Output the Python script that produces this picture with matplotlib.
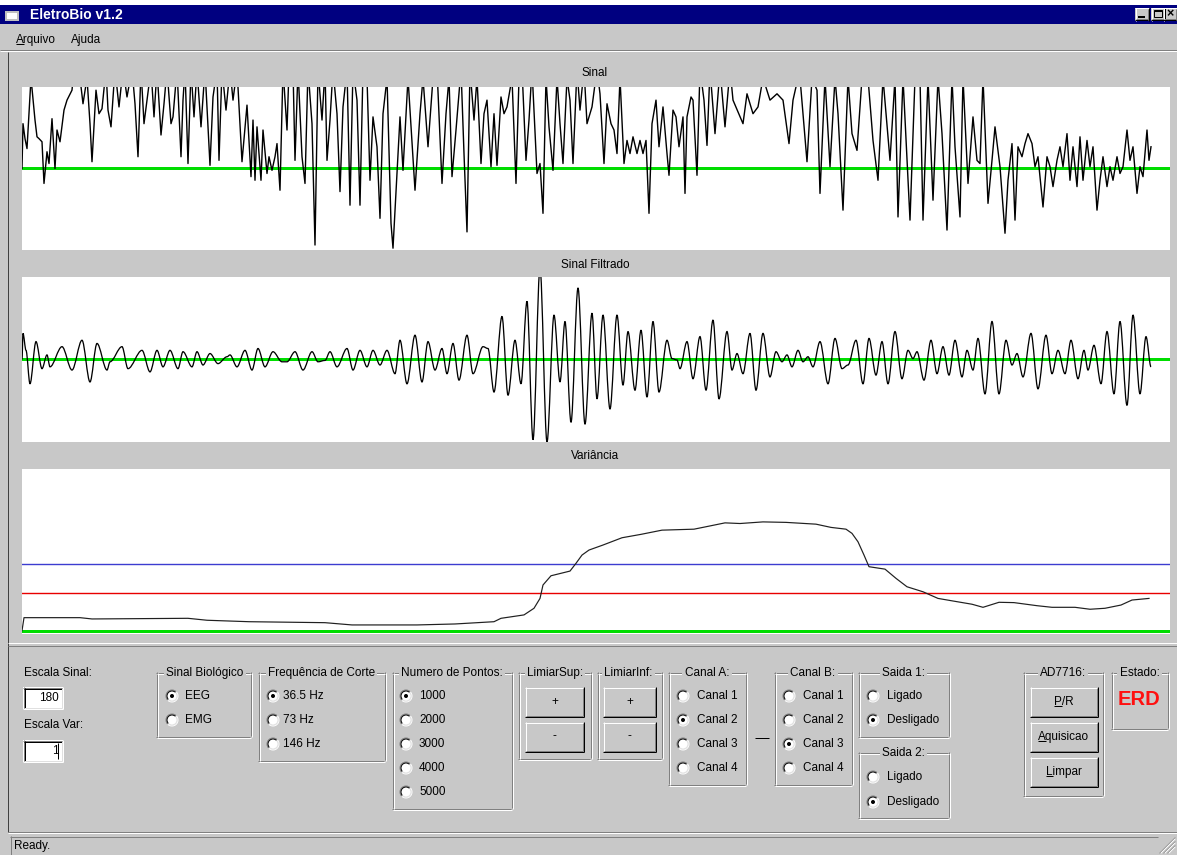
import matplotlib
matplotlib.use("Agg")
import matplotlib.pyplot as plt
from matplotlib.patches import Rectangle, Circle, Arc, PathPatch
from matplotlib.path import Path

W, H = 1177, 855
DPI = 100
FONT = ['Liberation Sans', 'DejaVu Sans']
TFONT = ['Liberation Sans', 'DejaVu Sans']
plt.rcParams['font.family'] = FONT

GRAY = '#c8c8c8'
DARK = '#808080'
LIGHT = '#e0e0e0'
WHITE = '#ffffff'
NAVY = '#000080'
PX = 72.0 / DPI
FS = 8.5

# ---------------- data ----------------
window_title = 'EletroBio v1.2'
menu_labels = ['Arquivo', 'Ajuda']
panel_titles = ['Sinal', 'Sinal Filtrado', 'Variância']
status_text = 'Ready.'

escala_sinal = 180
escala_var = 1

# raw signal (time in samples, amplitude)
sig_t = [0, 1, 3, 5, 9, 13, 15, 17, 20, 22, 25, 27, 30, 33, 35, 38, 42, 45, 50, 52,
         58, 61, 65, 68, 70, 74, 77, 80, 84, 86, 89, 93, 97, 101, 105, 110, 113, 116, 119, 122,
         125, 129, 132, 135, 139, 142, 145, 149, 151, 155, 159, 161, 163, 166, 169, 172, 175, 179, 183, 188,
         191, 195, 197, 200, 204, 208, 211, 215, 220, 225, 229, 231, 233, 235, 239, 241, 245, 247, 250, 253,
         255, 258, 261, 265, 267, 271, 273, 276, 280, 283, 286, 290, 293, 296, 300, 303, 305, 308, 311, 315,
         318, 321, 325, 328, 331, 335, 338, 341, 345, 348, 351, 355, 358, 361, 365, 369, 371, 378, 381, 386,
         393, 398, 401, 406, 411, 415, 420, 424, 427, 430, 434, 439, 442, 445, 448, 452, 455, 459, 462, 465,
         469, 472, 475, 479, 482, 485, 490, 494, 497, 500, 504, 507, 510, 515, 518, 521, 524, 527, 531, 535,
         538, 541, 545, 548, 551, 555, 558, 562, 565, 570, 575, 578, 582, 585, 589, 592, 595, 598, 602, 605,
         608, 611, 615, 618, 621, 624, 627, 630, 634, 637, 641, 645, 647, 651, 654, 657, 661, 663, 665, 669,
         671, 675, 678, 682, 685, 688, 693, 698, 703, 708, 711, 721, 725, 731, 736, 741, 748, 755, 761, 767,
         771, 776, 778, 785, 790, 795, 798, 803, 808, 813, 816, 821, 826, 830, 835, 840, 846, 851, 856, 861,
         868, 873, 876, 881, 885, 888, 893, 898, 901, 906, 911, 916, 920, 925, 930, 933, 938, 941, 946, 951,
         955, 958, 961, 966, 970, 973, 978, 983, 986, 990, 993, 996, 1000, 1003, 1006, 1010, 1013, 1016, 1021, 1025,
         1028, 1031, 1035, 1038, 1041, 1045, 1048, 1051, 1055, 1058, 1061, 1065, 1068, 1071, 1075, 1078, 1081, 1085, 1088, 1091,
         1095, 1098, 1101, 1105, 1108, 1111, 1115, 1118, 1121, 1125, 1127, 1129]
sig_v = [0, 99, 66, 44, 200, 107, 70, 66, 59, -33, 37, 11, 110, 0, 85, 59, 129, 151, 173, 220,
         200, 143, 200, 99, 15, 173, 121, 132, 220, 129, 92, 220, 136, 220, 158, 220, 143, 26, 220, 99,
         151, 220, 114, 220, 74, 143, 220, 99, 114, 220, 26, 151, 220, 11, 220, 114, 220, 92, 220, 7,
         158, 220, 18, 220, 129, 220, 151, 220, 15, 140, -18, 107, -26, 92, -26, 85, -11, 26, -4, 26,
         55, -48, 220, 85, 220, 220, 18, 220, 26, -33, 220, 99, -169, 220, 107, 220, 18, 107, 220, 121,
         -51, 136, 220, -81, 220, 151, -81, 220, 200, -26, 114, 48, -110, 121, 200, -121, -176, 114, -4, 200,
         -48, 121, 200, 48, 200, 220, -33, 121, 200, -18, 85, 220, 33, -140, 220, 107, 200, 11, 121, 151,
         4, 121, 7, 158, 121, 136, 200, -33, 200, 220, 18, 107, 220, -11, 11, -99, 200, 92, -4, 200,
         99, 11, 200, 151, 11, 220, 129, 220, 99, 136, 220, 165, 11, 143, 99, 85, 33, 200, 11, 62,
         33, 70, 33, 62, 33, 62, -99, 99, 151, 48, 136, 33, -15, 129, 114, 48, 114, -55, 114, 158,
         151, -15, 220, 151, 51, 220, 77, 220, 92, 220, 151, 99, 165, 121, 136, 200, 151, 165, 151, 55,
         151, 200, 200, 15, 200, 173, -55, 200, 4, 200, 121, -92, 200, 77, 40, 200, 200, 62, -26, 200,
         18, 200, -107, 200, 18, -114, 200, 200, -114, 200, -70, 200, 77, -136, 200, 48, -107, 200, -33, 114,
         18, 11, 200, -77, 18, 92, 4, -143, -26, 55, -114, 48, 26, 55, 77, 55, 4, 26, -85, 26,
         4, -40, 18, 48, 4, 77, -26, 48, -40, 70, -26, 62, 4, 48, -92, -26, 26, -40, 4, -26,
         26, -11, 4, 85, 18, 48, -55, 4, -18, 85, 18, 48]

# filtered signal (successive extrema)
filt_t = [0, 1, 4, 8, 14, 20, 25, 28, 40, 50, 60, 68, 75, 85, 88, 100, 106, 120, 128, 135,
          141, 148, 156, 161, 170, 175, 181, 188, 196, 205, 208, 215, 223, 230, 236, 243, 251, 260, 265, 273,
          281, 290, 296, 303, 308, 315, 325, 331, 338, 345, 351, 358, 365, 373, 378, 385, 393, 400, 406, 413,
          420, 425, 431, 437, 445, 451, 461, 466, 472, 480, 486, 493, 499, 505, 511, 518, 525, 532, 538, 543,
          549, 556, 563, 570, 575, 581, 588, 595, 601, 606, 613, 619, 625, 631, 637, 645, 650, 655, 658, 665,
          671, 678, 684, 691, 697, 705, 710, 715, 721, 728, 734, 741, 748, 754, 760, 765, 770, 776, 781, 786,
          791, 798, 806, 813, 820, 826, 834, 841, 847, 854, 860, 866, 873, 880, 886, 891, 895, 902, 909, 915,
          921, 927, 933, 940, 945, 951, 956, 963, 970, 977, 984, 990, 995, 1001, 1009, 1016, 1024, 1030, 1036, 1043,
          1049, 1056, 1062, 1066, 1072, 1079, 1085, 1092, 1098, 1105, 1111, 1118, 1124, 1129]
filt_v = [0, 57, 20, -53, 39, -20, 10, -16, 28, -23, 42, -49, 35, -23, -5, 28, -20, 20, -27, 20,
          -16, 20, -20, 17, -16, 17, -12, 13, -9, 6, 10, -16, 20, -23, 24, -16, 17, -5, -5, 17,
          -23, 17, -5, -2, 17, -16, 24, -23, 20, -16, 20, -12, 20, -31, 42, -53, 53, -49, 39, -23,
          24, -31, 35, -45, 53, -31, 28, 24, -71, 94, -78, 42, -53, 127, -175, 200, -180, 97, -49, 83,
          -137, 156, -141, 101, -86, 97, -108, 97, -56, 61, -67, 64, -82, 83, -71, 42, 2, -1, -20, 39,
          -42, 50, -67, 86, -86, 61, -23, 13, -31, 57, -67, 57, -38, 17, -5, 10, -16, 20, -5, 6,
          -16, 39, -53, 46, -20, -12, 42, -53, 46, -34, 39, -53, 61, -42, 20, 2, 17, -45, 42, -31,
          28, -34, 42, -38, 20, -23, 46, -75, 83, -75, 42, -12, 13, -38, 57, -64, 53, -31, 20, -31,
          42, -42, 20, -23, 31, -53, 61, -75, 83, -100, 97, -75, 50, -16]

# variance
var_t = [0, 2, 58, 70, 166, 185, 227, 303, 330, 395, 433, 472, 479, 502, 512, 518, 521, 529, 548, 554,
         560, 567, 581, 600, 619, 640, 672, 684, 703, 718, 741, 764, 794, 809, 824, 830, 836, 842, 847, 863,
         874, 885, 901, 916, 931, 950, 961, 977, 992, 1015, 1030, 1053, 1068, 1083, 1099, 1110, 1127]
var_v = [0, 8.1, 8.1, 7.3, 7.7, 6.5, 5.6, 5.0, 3.6, 3.6, 4.2, 5.6, 7.7, 9.8, 13.9, 20, 28.3, 34, 36.9, 41.7,
         46.8, 49.9, 53, 57.5, 59.6, 62.2, 62.8, 64.3, 66.7, 66.3, 67.3, 67, 65.9, 63.9, 62.8, 60.2, 55, 46.8, 39.6, 38.1,
         32.4, 27.2, 24.1, 20, 18.4, 16.4, 14.5, 17.6, 17.4, 15.5, 14.5, 14.5, 13.3, 13.9, 15.9, 19, 20]
limiar_sup = 41.2
limiar_inf = 23.3

bio_options = ['EEG', 'EMG']
bio_sel = 0
freq_options = ['36.5 Hz', '73 Hz', '146 Hz']
freq_sel = 0
pontos_options = ['1000', '2000', '3000', '4000', '5000']
pontos_sel = 0
canal_options = ['Canal 1', 'Canal 2', 'Canal 3', 'Canal 4']
canal_a_sel = 1
canal_b_sel = 2
saida_options = ['Ligado', 'Desligado']
saida1_sel = 1
saida2_sel = 1
ad_buttons = ['P/R', 'Aquisicao', 'Limpar']
estado = 'ERD'

# ---------------- figure ----------------
fig = plt.figure(figsize=(W / DPI, H / DPI), dpi=DPI, facecolor=GRAY)
ax0 = fig.add_axes([0, 0, 1, 1])
ax0.set_xlim(0, W)
ax0.set_ylim(H, 0)
ax0.axis('off')
ax0.set_facecolor(GRAY)
renderer = fig.canvas.get_renderer()


def rect(x0, y0, x1, y1, fc, z=1):
    ax0.add_patch(Rectangle((x0, y0), x1 - x0, y1 - y0, fc=fc, ec='none', zorder=z))


def hl(x0, x1, y, c, w=1, z=3):
    ax0.plot([x0, x1], [y + 0.5, y + 0.5], color=c, lw=w * PX, solid_capstyle='butt', zorder=z)


def vl(x, y0, y1, c, w=1, z=3):
    ax0.plot([x + 0.5, x + 0.5], [y0, y1], color=c, lw=w * PX, solid_capstyle='butt', zorder=z)


def txt(x, y, s, ha='left', size=FS, color='black', weight='normal', z=5, bbox=None, family=FONT):
    return ax0.text(x, y, s, ha=ha, va='center', fontsize=size, color=color,
                    fontweight=weight, zorder=z, bbox=bbox, family=family)


def underline_first(t):
    bb = t.get_window_extent(renderer)
    tmp = ax0.text(0, 0, t.get_text()[0], fontsize=t.get_fontsize(), family=FONT)
    w1 = tmp.get_window_extent(renderer).width
    tmp.remove()
    x0 = bb.x0
    yb = H - bb.y0 - 2.5
    hl(x0, x0 + w1, yb, 'black', z=6)


def raised(x0, y0, x1, y1):
    rect(x0, y0, x1, y1, GRAY, z=2)
    hl(x0, x1, y0, WHITE)
    vl(x0, y0, y1, WHITE)
    hl(x0, x1, y1 - 1, 'black')
    vl(x1 - 1, y0, y1, 'black')
    hl(x0 + 1, x1 - 1, y1 - 2, DARK)
    vl(x1 - 2, y0 + 1, y1 - 1, DARK)


def sunken(x0, y0, x1, y1, fc=WHITE):
    rect(x0, y0, x1, y1, fc, z=2)
    hl(x0, x1, y0, DARK)
    vl(x0, y0, y1, DARK)
    hl(x0 + 1, x1 - 1, y0 + 1, 'black')
    vl(x0 + 1, y0 + 1, y1 - 1, 'black')
    hl(x0, x1, y1 - 1, WHITE)
    vl(x1 - 1, y0, y1, WHITE)
    hl(x0 + 1, x1 - 1, y1 - 2, LIGHT)
    vl(x1 - 2, y0 + 1, y1 - 1, LIGHT)


def group(x0, y0, x1, y1, title, tx=None):
    for (a, b) in [(0, DARK), (1, WHITE)]:
        hl(x0 + a, x1 - 1 + a, y0 + a, b)
        hl(x0 + a, x1 - 1 + a, y1 - 1 + a, b)
        vl(x0 + a, y0 + a, y1 - 1 + a, b)
        vl(x1 - 1 + a, y0 + a, y1 - 1 + a, b)
    ha = 'left'
    if tx is None:
        tx = (x0 + x1) / 2
        ha = 'center'
    txt(tx, y0 + 1, title, ha=ha,
        bbox=dict(boxstyle='square,pad=0.2', fc=GRAY, ec='none'))


def radio(cx, cy, checked):
    ax0.add_patch(Circle((cx, cy), 5.5, fc=WHITE, ec='none', zorder=3))
    ax0.add_patch(Arc((cx, cy), 12, 12, theta1=135, theta2=315, color=DARK, lw=PX, zorder=4))
    ax0.add_patch(Arc((cx, cy), 12, 12, theta1=-45, theta2=135, color=WHITE, lw=PX, zorder=4))
    ax0.add_patch(Arc((cx, cy), 10, 10, theta1=135, theta2=315, color='black', lw=PX, zorder=4))
    ax0.add_patch(Arc((cx, cy), 10, 10, theta1=-45, theta2=135, color=LIGHT, lw=PX, zorder=4))
    if checked:
        ax0.add_patch(Circle((cx, cy), 2.0, fc='black', ec='none', zorder=5))


def radio_list(cx, tx, rows, labels, sel):
    for i, (r, lab) in enumerate(zip(rows, labels)):
        radio(cx, r, i == sel)
        txt(tx, r, lab)


# ---- window chrome ----
rect(0, 0, W, 5, WHITE)
rect(0, 5, W, 24, NAVY, z=2)
rect(5, 8, 19, 21, '#c0c0c0', z=3)
rect(5, 8, 19, 11, NAVY, z=4)
rect(7, 13, 17, 19, WHITE, z=4)
txt(30, 15, window_title, color=WHITE, weight='bold', size=10, family=TFONT)
for bx in [1135, 1151, 1163]:
    raised(bx, 8, bx + 14, 21)
hl(1138, 1145, 17, 'black', w=2, z=6)
ax0.add_patch(Rectangle((1154, 10.5), 8, 7, fc='none', ec='black', lw=PX, zorder=6))
hl(1154, 1162, 11, 'black', w=1, z=6)
txt(1170, 14.5, '×', ha='center', size=9, weight='bold', z=6, family=TFONT)

# menu
m1 = txt(16, 40, menu_labels[0])
underline_first(m1)
txt(71, 40, menu_labels[1])
hl(0, W, 50, DARK)
hl(0, W, 51, WHITE)
vl(7, 52, 832, '#404040')

# panel titles
for title, yy in zip(panel_titles, [73, 265, 456]):
    txt(595, yy, title, ha='center')

# bottom separators
hl(8, W, 642, WHITE)
hl(8, W, 645, DARK)
hl(8, W, 831, DARK)
hl(8, W, 832, WHITE)

# status bar
hl(10, 1158, 836, DARK)
vl(10, 836, H, DARK)
txt(14, 846, status_text)
for k in range(3):
    ax0.plot([1160 + 4 * k, 1175], [853, 838 + 4 * k], color=DARK, lw=PX, zorder=4)
    ax0.plot([1161 + 4 * k, 1175], [853, 839 + 4 * k], color=WHITE, lw=PX, zorder=4)

# ---- controls ----
txt(24, 673, 'Escala Sinal:')
sunken(23, 687, 63, 709)
txt(59, 698, str(escala_sinal), ha='right')
txt(24, 725, 'Escala Var:')
sunken(23, 740, 63, 762)
txt(59, 751, str(escala_var), ha='right')
vl(57, 743, 759, 'black')

rows4 = [696, 720, 744, 768, 792]
group(156, 672, 251, 737, 'Sinal Biológico', tx=166)
radio_list(172, 185, rows4, bio_options, bio_sel)

group(258, 672, 385, 761, 'Frequência de Corte', tx=268)
radio_list(273, 283, rows4, freq_options, freq_sel)

group(392, 672, 512, 809, 'Numero de Pontos:', tx=401)
radio_list(406, 419, rows4, pontos_options, pontos_sel)

group(518, 672, 591, 759, 'LimiarSup:', tx=527)
raised(525, 687, 584, 717)
txt(554.5, 702, '+', ha='center')
raised(525, 722, 584, 752)
txt(554.5, 736, '-', ha='center')

group(597, 672, 662, 759, 'LimiarInf:', tx=604)
raised(603, 687, 656, 717)
txt(629.5, 702, '+', ha='center')
raised(603, 722, 656, 752)
txt(629.5, 736, '-', ha='center')

group(668, 672, 746, 785, 'Canal A:')
radio_list(683, 697, rows4, canal_options, canal_a_sel)

hl(755, 769, 737, 'black')

group(774, 672, 852, 785, 'Canal B:')
radio_list(789, 803, rows4, canal_options, canal_b_sel)

group(858, 672, 949, 737, 'Saida 1:')
radio_list(873, 887, [696, 720], saida_options, saida1_sel)
group(858, 752, 949, 818, 'Saida 2:')
radio_list(873, 887, [777, 802], saida_options, saida2_sel)

group(1023, 672, 1103, 796, 'AD7716:')
for lab, (y0, y1) in zip(ad_buttons, [(687, 717), (722, 752), (757, 787)]):
    raised(1030, y0, 1098, y1)
    cy = (y0 + y1) / 2
    tb = txt(1064, cy, lab, ha='center')
    underline_first(tb)

group(1111, 672, 1168, 729, 'Estado:')
txt(1139, 699, estado, ha='center', size=14.5, color='#ff1010', weight='bold', family=TFONT)


# ---- data panels ----
def px_axes(x0, y0, x1, y1):
    a = fig.add_axes([x0 / W, 1 - y1 / H, (x1 - x0) / W, (y1 - y0) / H])
    a.set_facecolor(WHITE)
    for s in a.spines.values():
        s.set_visible(False)
    a.set_xticks([])
    a.set_yticks([])
    a.set_xlim(0, 1148)
    return a


def smooth_path(ts, vs):
    verts = [(ts[0], vs[0])]
    codes = [Path.MOVETO]
    for i in range(1, len(ts)):
        d = (ts[i] - ts[i - 1]) / 3.0
        verts += [(ts[i - 1] + d, vs[i - 1]), (ts[i] - d, vs[i]), (ts[i], vs[i])]
        codes += [Path.CURVE4] * 3
    return Path(verts, codes)


GREEN = '#00dd00'
a1 = px_axes(22, 87, 1170, 250)
a1.set_ylim(-escala_sinal, escala_sinal)
a1.axhline(0, color=GREEN, lw=3 * PX, zorder=1)
a1.plot(sig_t, sig_v, color='black', lw=1.4 * PX, zorder=2)

a2 = px_axes(22, 277, 1170, 442)
a2.set_ylim(-escala_sinal, escala_sinal)
a2.axhline(0, color=GREEN, lw=3 * PX, zorder=1)
a2.add_patch(PathPatch(smooth_path(filt_t, filt_v), fc='none', ec='black', lw=1.3 * PX, zorder=2))

a3 = px_axes(22, 469, 1170, 634)
a3.set_ylim(-2, 100)
a3.axhline(0, color=GREEN, lw=3 * PX, zorder=1)
a3.axhline(limiar_sup, color='#3c3cd0', lw=1.4 * PX, zorder=1)
a3.axhline(limiar_inf, color='#e80000', lw=1.4 * PX, zorder=1)
a3.plot(var_t, var_v, color='#202020', lw=1.2 * PX, zorder=2)

fig.savefig('out.png', dpi=DPI, facecolor=GRAY)
